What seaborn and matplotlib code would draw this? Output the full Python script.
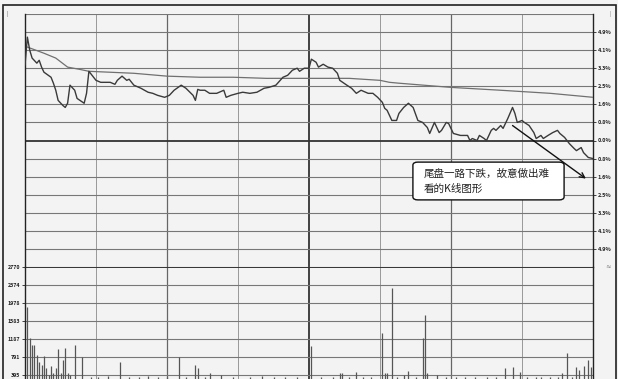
import numpy as np
import pandas as pd
import matplotlib
matplotlib.use("Agg")
import matplotlib.pyplot as plt
from matplotlib.patches import Rectangle, FancyBboxPatch
import seaborn as sns

# ---------------- data ----------------
price_min = [0, 1, 2, 3, 5, 6, 7, 8, 11, 12, 13, 14, 16, 17, 18, 19, 21, 22, 25, 26,
             27, 30, 32, 36, 38, 39, 41, 43, 44, 46, 49, 52, 54, 56, 59, 61, 63, 66, 68, 71,
             72, 73, 74, 76, 78, 81, 84, 85, 87, 90, 92, 95, 98, 101, 103, 106, 109, 111, 113, 115,
             116, 118, 120, 121, 123, 124, 126, 128, 130, 132, 133, 136, 138, 140, 142, 145, 147, 149, 151, 152,
             153, 155, 157, 158, 160, 162, 164, 166, 168, 170, 171, 173, 175, 176, 178, 179, 181, 184, 187, 188,
             189, 191, 192, 194, 195, 197, 198, 199, 201, 202, 204, 206, 207, 208, 210, 211, 213, 215, 216, 218,
             219, 221, 223, 225, 226, 228, 230, 232, 233, 235, 236, 238, 240]
price_pct = [3.42, 4.69, 4.10, 3.74, 3.51, 3.64, 3.33, 3.10, 2.87, 2.60, 2.28, 1.82, 1.59, 1.50, 1.69, 2.51, 2.28, 1.91, 1.69, 2.14,
             3.14, 2.73, 2.64, 2.64, 2.55, 2.73, 2.92, 2.73, 2.78, 2.51, 2.37, 2.19, 2.14, 2.05, 1.96, 2.05, 2.28, 2.51, 2.37, 2.05,
             1.82, 2.32, 2.28, 2.28, 2.14, 2.14, 2.28, 1.96, 2.05, 2.14, 2.19, 2.14, 2.19, 2.37, 2.41, 2.51, 2.87, 2.96, 3.19, 3.28,
             3.14, 3.28, 3.28, 3.69, 3.55, 3.33, 3.46, 3.33, 3.28, 3.05, 2.73, 2.51, 2.37, 2.14, 2.28, 2.14, 2.14, 1.96, 1.73, 1.46,
             1.37, 0.91, 0.91, 1.23, 1.50, 1.69, 1.50, 0.91, 0.82, 0.59, 0.32, 0.82, 0.36, 0.46, 0.82, 0.77, 0.32, 0.23, 0.23, 0.00,
             0.09, 0.00, 0.23, 0.09, 0.00, 0.46, 0.55, 0.46, 0.68, 0.55, 1.00, 1.50, 1.23, 0.82, 0.91, 0.82, 0.68, 0.36, 0.09, 0.23,
             0.09, 0.23, 0.36, 0.46, 0.32, 0.14, -0.14, -0.36, -0.46, -0.32, -0.55, -0.77, -0.82]

avg_min = [1, 8, 13, 18, 23, 27, 46, 60, 74, 88, 102, 120, 137, 150, 154, 158, 180, 201, 222, 240]
avg_pct = [4.24, 3.96, 3.74, 3.33, 3.23, 3.14, 3.05, 2.92, 2.87, 2.87, 2.82, 2.82, 2.82, 2.73, 2.64, 2.60, 2.41, 2.28, 2.14, 1.96]

vol_min = [1, 2, 3, 4, 5, 6, 7, 8, 9, 10, 11, 12, 13, 14, 15, 16, 17, 18, 19, 21,
           24, 28, 31, 35, 40, 44, 48, 52, 56, 60, 65, 68, 72, 73, 76, 78, 83, 88, 95, 100,
           105, 110, 115, 121, 125, 130, 133, 134, 137, 140, 143, 146, 151, 152, 153, 155, 157, 160, 162, 165,
           168, 169, 170, 174, 178, 182, 186, 190, 195, 199, 203, 206, 209, 212, 216, 218, 222, 225, 227, 229,
           231, 233, 234, 236, 238, 239]
vol_val = [1897, 1209, 1055, 1055, 835, 681, 615, 813, 549, 395, 593, 440, 549, 967, 440, 725, 989, 440, 395, 1055,
           791, 360, 355, 365, 681, 360, 350, 370, 355, 360, 791, 350, 615, 549, 360, 440, 395, 355, 350, 365,
           360, 350, 355, 1033, 360, 355, 440, 440, 350, 462, 360, 355, 1319, 440, 440, 2308, 360, 395, 484, 355,
           1209, 1715, 440, 395, 360, 355, 350, 360, 355, 350, 549, 571, 462, 355, 350, 350, 360, 355, 440, 879,
           355, 571, 505, 593, 725, 571]

pct_step = 0.82
pct_ticks = [k * pct_step for k in range(-6, 7)]
pct_labels = ["%.1f%%" % abs(round(t, 2)) for t in pct_ticks]
vol_step = 395.7
vol_ticks = [k * vol_step for k in range(1, 8)]
vol_labels = ["395", "791", "1187", "1583", "1978", "2374", "2770"]
note_text = "尾盘一路下跌，故意做出难\n看的K线图形"

# ---------------- figure ----------------
sns.set_theme(style="white")
plt.rcParams['font.family'] = ['Noto Sans CJK SC', 'DejaVu Sans']

W, H = 618, 379
fig = plt.figure(figsize=(W / 100, H / 100), dpi=100)
bg = "#f3f3f3"
fig.patch.set_facecolor(bg)

def fx(px):
    return px / W

def fy(py):
    return 1 - py / H

left, right = 25, 593
ax = fig.add_axes([fx(left), fy(267), fx(right) - fx(left), fy(14) - fy(267)])
axv = fig.add_axes([fx(left), 0, fx(right) - fx(left), fy(267)], sharex=ax)
for a in (ax, axv):
    a.set_facecolor(bg)
    a.set_xlim(0, 240)

# grids
for m in range(0, 241, 30):
    if m == 120:
        c, lw = "#333333", 1.3
    elif m in (60, 180):
        c, lw = "#666666", 0.9
    else:
        c, lw = "#999999", 0.7
    for a in (ax, axv):
        a.axvline(m, color=c, lw=lw, zorder=1)

for k in range(-7, 8):
    y = k * pct_step
    if k == 0:
        ax.axhline(y, color="#333333", lw=1.3, zorder=1)
    else:
        ax.axhline(y, color="#777777", lw=0.8, zorder=1)
ax.set_ylim(-7 * pct_step, 7 * pct_step)

for k in range(1, 8):
    axv.axhline(k * vol_step, color="#333333" if k == 7 else "#777777",
                lw=1.4 if k == 7 else 0.8, zorder=1)
axv.set_ylim(307.8, 7 * vol_step)

# price + average lines
dfp = pd.DataFrame({"m": price_min, "p": price_pct})
dfa = pd.DataFrame({"m": avg_min, "p": avg_pct})
sns.lineplot(data=dfa, x="m", y="p", ax=ax, color="#707070", lw=0.9, zorder=3)
sns.lineplot(data=dfp, x="m", y="p", ax=ax, color="#3a3a3a", lw=1.0, zorder=4)

# volume bars
axv.vlines(vol_min, 0, vol_val, color="#555555", lw=0.9, zorder=3)

# axes styling
for a in (ax, axv):
    for s in ("top", "bottom"):
        a.spines[s].set_visible(False)
    a.spines["left"].set_color("#222222")
    a.spines["right"].set_color("#222222")
    a.spines["left"].set_linewidth(1.0)
    a.spines["right"].set_linewidth(1.0)
    a.set_xlabel("")
    a.set_ylabel("")
    a.tick_params(axis="x", bottom=False, labelbottom=False)

ax.yaxis.tick_right()
ax.set_yticks(pct_ticks)
ax.set_yticklabels(pct_labels)
ax.tick_params(axis="y", right=True, left=False, length=2, width=0.6, pad=1.5,
               labelsize=4, labelcolor="#222222", colors="#222222")
for t in ax.get_yticklabels():
    t.set_fontweight("bold")

axv.set_yticks(vol_ticks)
axv.set_yticklabels(vol_labels)
axv.tick_params(axis="y", left=True, right=False, length=2.5, width=0.6, pad=1,
                labelsize=3.8, labelcolor="#222222", colors="#222222")
for t in axv.get_yticklabels():
    t.set_fontweight("bold")

# annotation arrow
ax.annotate("", xy=(237, -1.73), xytext=(206, 0.68),
            arrowprops=dict(arrowstyle="->", color="#111111", lw=1.0,
                            mutation_scale=9, shrinkA=0, shrinkB=0), zorder=6)

# annotation box
box = FancyBboxPatch((fx(416), fy(198)), fx(561) - fx(416), fy(164) - fy(198),
                     boxstyle="round,pad=0.005,rounding_size=0.008",
                     transform=fig.transFigure, facecolor="white", edgecolor="#111111",
                     lw=1.0, zorder=10)
fig.patches.append(box)
fig.text(fx(424), fy(181), note_text, fontsize=7.6, color="#222222",
         va="center", ha="left", linespacing=1.55, zorder=11)

# outer frame and small marks
frame = Rectangle((fx(3), -0.02), fx(616) - fx(3), fy(5) + 0.02,
                  transform=fig.transFigure, fill=False, edgecolor="#222222", lw=1.2)
fig.patches.append(frame)
fig.text(fx(7), fy(14), "|", fontsize=4, color="#555555", ha="center", va="center")
fig.text(fx(610), fy(14), "|", fontsize=4, color="#777777", ha="center", va="center")
fig.text(fx(608), fy(268), "≈", fontsize=4, color="#777777", ha="center", va="center")

fig.savefig("out.png", dpi=100, facecolor=bg)
